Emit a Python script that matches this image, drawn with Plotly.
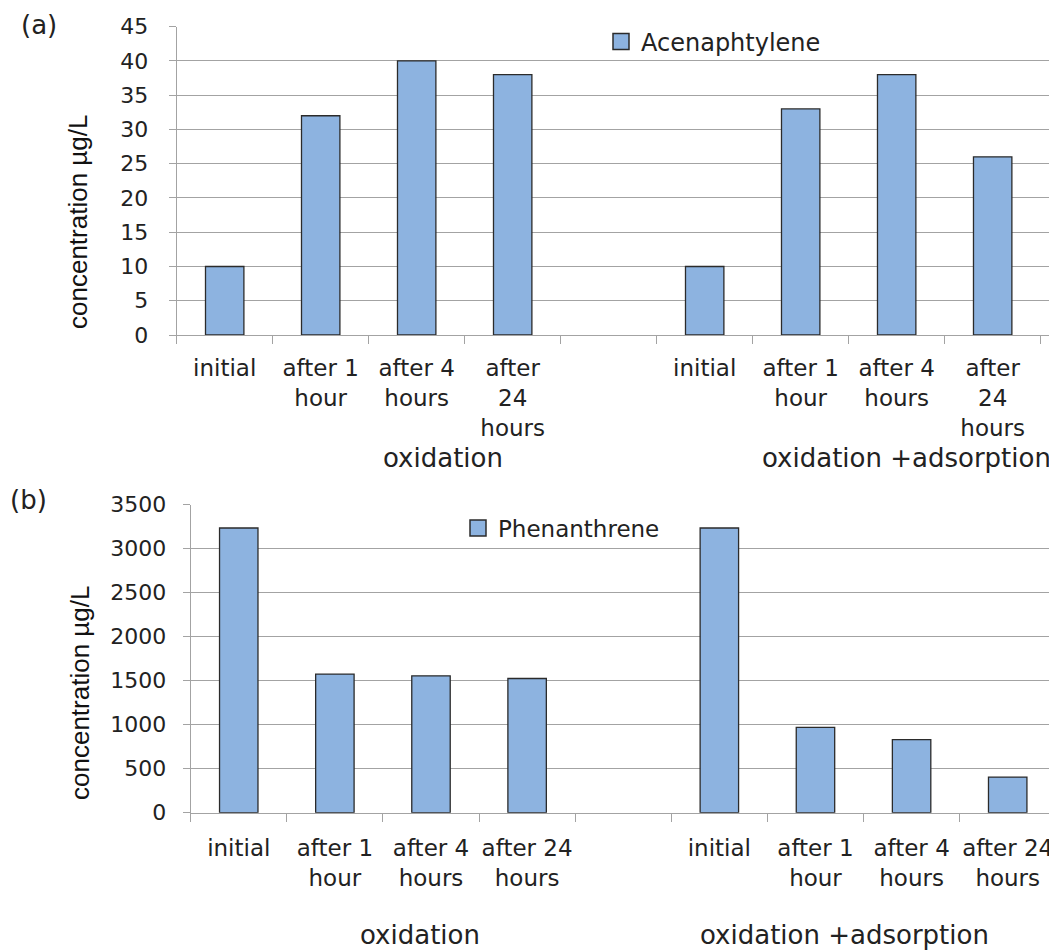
import numpy as np
import plotly.graph_objects as go

# ---------------- data ----------------
top_labels = ["initial", "after 1<br>hour", "after 4<br>hours", "after<br>24<br>hours", "",
              "initial", "after 1<br>hour", "after 4<br>hours", "after<br>24<br>hours"]
bottom_labels = ["initial", "after 1<br>hour", "after 4<br>hours", "after 24<br>hours", "",
                 "initial", "after 1<br>hour", "after 4<br>hours", "after 24<br>hours"]
acenaphtylene = [10, 32, 40, 38, None, 10, 33, 38, 26]
phenanthrene = [3235, 1575, 1555, 1525, None, 3235, 970, 830, 405]
groups = ["oxidation", "oxidation +adsorption"]
top_group_x = [2.27, 7.1]
bottom_group_x = [1.89, 6.3]
top_yticks = list(range(0, 50, 5))
bottom_yticks = list(range(0, 4000, 500))

# the page puts the plot 8px in from the window's top-left corner
OFF = 8
W, H = 1057 - OFF, 950 - OFF
BAR = "#8DB3E0"
EDGE = "#2b2b2b"
GRID = "#a3a3a3"
TXT = "#222222"
TICKFONT = dict(family="DejaVu Sans", size=22, color=TXT)

xs = np.arange(len(top_labels))

fig = go.Figure()
fig.add_trace(go.Bar(x=xs, y=acenaphtylene, name="Acenaphtylene", width=0.4,
                     marker=dict(color=BAR, line=dict(color=EDGE, width=1.3)),
                     xaxis="x", yaxis="y", showlegend=False))
fig.add_trace(go.Bar(x=xs, y=phenanthrene, name="Phenanthrene", width=0.4,
                     marker=dict(color=BAR, line=dict(color=EDGE, width=1.3)),
                     xaxis="x2", yaxis="y2", showlegend=False))
# legend entries (square swatches like the original)
fig.add_trace(go.Scatter(x=[None], y=[None], mode="markers", name="Acenaphtylene",
                         marker=dict(symbol="square", size=16, color=BAR, line=dict(color=EDGE, width=1.5)),
                         xaxis="x", yaxis="y", legend="legend"))
fig.add_trace(go.Scatter(x=[None], y=[None], mode="markers", name="Phenanthrene",
                         marker=dict(symbol="square", size=16, color=BAR, line=dict(color=EDGE, width=1.5)),
                         xaxis="x2", yaxis="y2", legend="legend2"))


def px_x(p):
    return (p - OFF) / W


def px_y(p):
    return 1 - (p - OFF) / H


xaxis_common = dict(
    tickmode="array", ticks="", tickangle=0, tickfont=TICKFONT,
    showgrid=False, showline=True, linecolor=GRID, linewidth=1.3,
    zeroline=False, fixedrange=True, automargin=False,
    minor=dict(tickmode="linear", tick0=-0.5, dtick=1, ticks="outside",
               ticklen=8, tickcolor=GRID, tickwidth=1.3, showgrid=False),
)
yaxis_common = dict(
    tickmode="array", ticks="outside", ticklen=7, tickcolor=GRID, tickwidth=1.3,
    tickfont=TICKFONT, showgrid=True, gridcolor=GRID, gridwidth=1.3,
    showline=True, linecolor=GRID, linewidth=1.3, zeroline=False, fixedrange=True,
    automargin=False,
)

fig.update_layout(
    width=W, height=H,
    margin=dict(l=0, r=0, t=0, b=0, pad=0, autoexpand=False),
    paper_bgcolor="white", plot_bgcolor="white",
    font=dict(family="DejaVu Sans", color=TXT),
    xaxis=dict(xaxis_common, domain=[px_x(176.7), 1.0], range=[-0.5, 8.67],
               tickvals=list(xs), ticktext=top_labels, anchor="y",
               tickfont=dict(TICKFONT, size=23), ticklabelstandoff=12),
    yaxis=dict(yaxis_common, domain=[px_y(335), px_y(26.7)], range=[0, 45],
               tickvals=top_yticks, anchor="x", ticklabelstandoff=16),
    xaxis2=dict(xaxis_common, domain=[px_x(190.7), px_x(1050)], range=[-0.5, 8.44],
                tickvals=list(xs), ticktext=bottom_labels, anchor="y2",
                tickfont=dict(TICKFONT, size=23), ticklabelstandoff=15),
    yaxis2=dict(yaxis_common, domain=[px_y(812.7), px_y(504.7)], range=[0, 3500],
                tickvals=bottom_yticks, anchor="x2", ticklabelstandoff=12),
    legend=dict(x=px_x(601), y=px_y(42), xanchor="left", yanchor="middle",
                bgcolor="rgba(0,0,0,0)", font=dict(family="DejaVu Sans", size=24, color=TXT),
                itemwidth=30, tracegroupgap=0),
    legend2=dict(x=px_x(458), y=px_y(528), xanchor="left", yanchor="middle",
                 bgcolor="rgba(0,0,0,0)", font=dict(family="DejaVu Sans", size=23, color=TXT),
                 itemwidth=30, tracegroupgap=0),
    showlegend=True,
)

annotations = []
# panel labels
annotations.append(dict(text="(a)", x=px_x(19), y=px_y(25), xref="paper", yref="paper",
                        xanchor="left", yanchor="middle", showarrow=False,
                        font=dict(family="DejaVu Sans", size=26, color=TXT)))
annotations.append(dict(text="(b)", x=px_x(8), y=px_y(500), xref="paper", yref="paper",
                        xanchor="left", yanchor="middle", showarrow=False,
                        font=dict(family="DejaVu Sans", size=26, color=TXT)))
# y titles
annotations.append(dict(text="concentration µg/L", x=px_x(78), y=px_y(222), xref="paper", yref="paper",
                        textangle=-90, showarrow=False, xanchor="center", yanchor="middle",
                        font=dict(family="Liberation Sans", size=26, color="#111111")))
annotations.append(dict(text="concentration µg/L", x=px_x(80), y=px_y(693), xref="paper", yref="paper",
                        textangle=-90, showarrow=False, xanchor="center", yanchor="middle",
                        font=dict(family="Liberation Sans", size=26, color="#111111")))
# group labels
for g, gx in zip(groups, top_group_x):
    annotations.append(dict(text=g, x=gx, xref="x", y=px_y(458), yref="paper",
                            showarrow=False, xanchor="center", yanchor="middle",
                            font=dict(family="DejaVu Sans", size=26, color=TXT)))
for g, gx in zip(groups, bottom_group_x):
    annotations.append(dict(text=g, x=gx, xref="x2", y=px_y(935), yref="paper",
                            showarrow=False, xanchor="center", yanchor="middle",
                            font=dict(family="DejaVu Sans", size=26, color=TXT)))
fig.update_layout(annotations=annotations)

fig.write_html("out.html")
